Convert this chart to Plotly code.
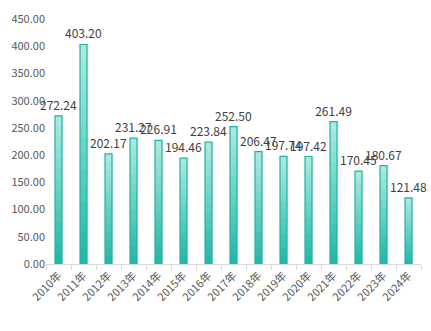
import plotly.graph_objects as go

years = ["2010年", "2011年", "2012年", "2013年", "2014年", "2015年", "2016年", "2017年",
         "2018年", "2019年", "2020年", "2021年", "2022年", "2023年", "2024年"]
values = [272.24, 403.20, 202.17, 231.27, 226.91, 194.46, 223.84, 252.50,
          206.47, 197.74, 197.42, 261.49, 170.45, 180.67, 121.48]

fig = go.Figure()

# soft shadow to the right of each bar
fig.add_trace(go.Bar(
    x=years, y=values, width=0.28, offset=-0.14 + 0.09,
    marker=dict(color="rgba(140,150,150,0.13)", line=dict(width=0)),
    hoverinfo="skip", showlegend=False,
))

# gradient effect: overlaid bands, light at top to dark teal at bottom
N = 14
top = (170, 232, 224)
bot = (38, 184, 168)
for i in range(N):
    f = i / (N - 1)
    c = tuple(round(top[k] + (bot[k] - top[k]) * f) for k in range(3))
    frac = 1 - i / N
    fig.add_trace(go.Bar(
        x=years, y=[v * frac for v in values],
        marker=dict(color="rgb(%d,%d,%d)" % c, line=dict(width=0)),
        width=0.28, hoverinfo="skip", showlegend=False,
    ))

fig.add_trace(go.Bar(
    x=years, y=values,
    marker=dict(color="rgba(0,0,0,0)", line=dict(color="#22b3a3", width=1.2)),
    width=0.28, text=[f"{v:.2f}" for v in values], textposition="outside",
    constraintext="none",
    textfont=dict(size=12, color="#404040"), cliponaxis=False,
    showlegend=False,
))

fig.update_layout(
    barmode="overlay",
    width=431, height=331,
    margin=dict(l=46, r=10, t=15, b=67),
    plot_bgcolor="white", paper_bgcolor="white",
    font=dict(family="Noto Sans CJK SC, DejaVu Sans", color="#595959"),
)
fig.update_xaxes(
    tickangle=-45, tickfont=dict(size=11, color="#595959"),
    showline=True, linecolor="#d9d9d9", linewidth=1,
    ticks="outside", tickcolor="#d9d9d9", ticklen=5, tickson="boundaries",
    showgrid=False,
)
fig.update_yaxes(
    range=[0, 450], dtick=50, tickformat=".2f",
    tickfont=dict(size=11, color="#595959"),
    showgrid=False, zeroline=False, showline=False,
)
fig.write_html("out.html")
